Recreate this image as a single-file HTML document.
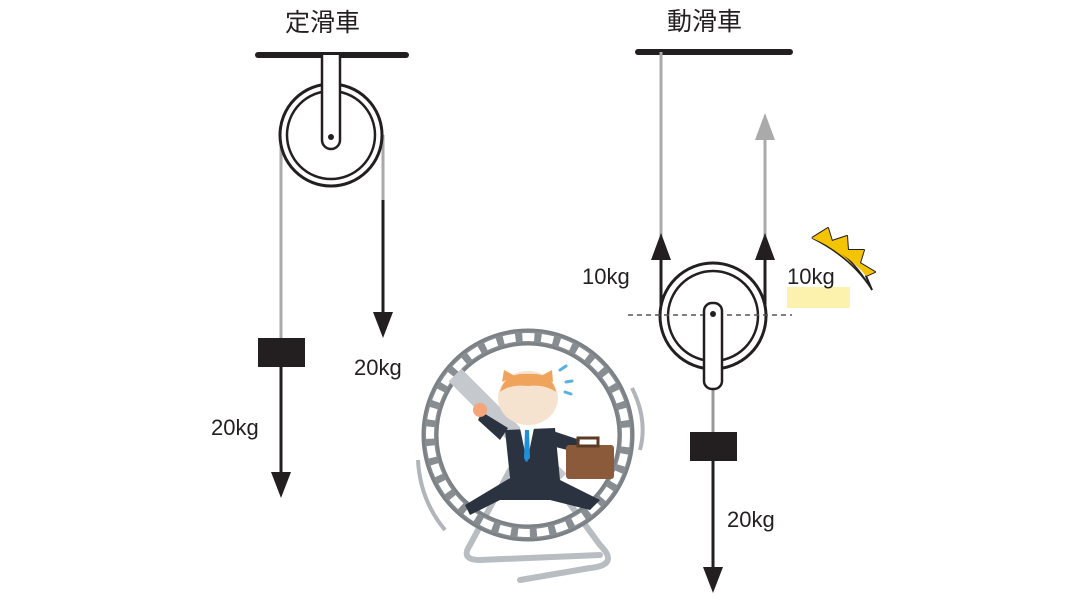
<!DOCTYPE html>
<html><head><meta charset="utf-8"><style>
html,body{margin:0;padding:0;background:#fff;}
svg{display:block}
text{font-family:"Liberation Sans","Noto Sans CJK JP",sans-serif;fill:#231f20}
</style></head><body>
<svg width="1067" height="600" viewBox="0 0 1067 600" xmlns="http://www.w3.org/2000/svg">
<text x="285" y="31" font-size="25">定滑車</text>
<text x="667" y="30" font-size="25">動滑車</text>

<line x1="258" y1="55" x2="406" y2="55" stroke="#231f20" stroke-width="6" stroke-linecap="round"/>
<line x1="281" y1="135" x2="281" y2="340" stroke="#aaa" stroke-width="3"/>
<line x1="383" y1="135" x2="383" y2="200" stroke="#aaa" stroke-width="3"/>
<circle cx="331" cy="135" r="51" fill="#fff" stroke="#231f20" stroke-width="3"/>
<circle cx="331" cy="135" r="44" fill="none" stroke="#231f20" stroke-width="2.5"/>
<path d="M322,55 V140 a9,9 0 0 0 18,0 V55" fill="#fff" stroke="#231f20" stroke-width="2.5"/>
<circle cx="331" cy="137" r="3" fill="#231f20"/>
<line x1="383" y1="200" x2="383" y2="315" stroke="#231f20" stroke-width="3"/>
<polygon points="373,312 393,312 383,338" fill="#231f20"/>
<rect x="258" y="338" width="47" height="29" fill="#231f20"/>
<line x1="281" y1="367" x2="281" y2="475" stroke="#231f20" stroke-width="3"/>
<polygon points="271,472 291,472 281,498" fill="#231f20"/>
<text x="354" y="375" font-size="22">20kg</text>
<text x="211" y="435" font-size="22">20kg</text>

<line x1="638" y1="52" x2="790" y2="52" stroke="#231f20" stroke-width="6" stroke-linecap="round"/>
<line x1="661" y1="52" x2="661" y2="240" stroke="#aaa" stroke-width="3"/>
<line x1="765" y1="135" x2="765" y2="240" stroke="#aaa" stroke-width="3"/>
<polygon points="755,140 775,140 765,113" fill="#aaa"/>
<line x1="661" y1="255" x2="661" y2="316" stroke="#231f20" stroke-width="3"/>
<polygon points="651,260 671,260 661,233" fill="#231f20"/>
<line x1="765" y1="255" x2="765" y2="316" stroke="#231f20" stroke-width="3"/>
<polygon points="755,260 775,260 765,233" fill="#231f20"/>
<circle cx="713" cy="316" r="53" fill="#fff" stroke="#231f20" stroke-width="3"/>
<circle cx="713" cy="316" r="45" fill="none" stroke="#231f20" stroke-width="2.5"/>
<line x1="628" y1="315" x2="792" y2="315" stroke="#555" stroke-width="1.5" stroke-dasharray="5,4"/>
<line x1="713" y1="385" x2="713" y2="432" stroke="#999" stroke-width="3"/>
<rect x="704" y="303" width="18" height="86" rx="8" fill="#fff" stroke="#231f20" stroke-width="2.5"/>
<circle cx="713" cy="314" r="3" fill="#231f20"/>
<rect x="690" y="432" width="47" height="29" fill="#231f20"/>
<line x1="713" y1="461" x2="713" y2="570" stroke="#231f20" stroke-width="3"/>
<polygon points="703,567 723,567 713,593" fill="#231f20"/>
<rect x="787" y="287" width="63" height="21" fill="#fbef9a" opacity="0.8"/>
<text x="582" y="284" font-size="22">10kg</text>
<text x="787" y="284" font-size="22">10kg</text>
<text x="727" y="527" font-size="22">20kg</text>
<path d="M812,238 Q845,245 872,290 Q852,258 812,238 Z" fill="#f5c400" stroke="#231f20" stroke-width="1.5"/>
<path d="M812,238 L828,228 L832,241 L847,236 L848,250 L864,250 L860,263 L875,272 L866,276 L872,290" fill="none" stroke="#231f20" stroke-width="2" stroke-linejoin="round"/>
<path d="M828,228 L832,241 L847,236 L848,250 L864,250 L860,263 L875,272 L866,276 Q850,255 812,238 Z" fill="#f5c400"/>

<path d="M470,545 L510,470 M545,470 L600,545 Q620,565 590,568 L520,580 M470,545 Q460,560 480,560 L600,555" fill="none" stroke="#b8bdc2" stroke-width="6" stroke-linecap="round"/>
<circle cx="528" cy="435" r="98" fill="none" stroke="#888d92" stroke-width="14"/>
<circle cx="528" cy="435" r="98" fill="none" stroke="#fff" stroke-width="8" stroke-dasharray="12,7"/>
<circle cx="528" cy="435" r="105" fill="none" stroke="#7c8186" stroke-width="3"/>
<circle cx="528" cy="435" r="91" fill="none" stroke="#7c8186" stroke-width="3"/>
<path d="M418,460 Q420,500 445,530" fill="none" stroke="#b0b5ba" stroke-width="4"/>
<path d="M632,388 Q648,420 640,450" fill="none" stroke="#b0b5ba" stroke-width="4"/>
<path d="M455,375 L560,480" stroke="#c5c9cd" stroke-width="18"/>
<path d="M505,430 L555,428 L560,480 L600,500 L590,510 L550,500 L500,500 L470,515 L465,505 L510,478 Z" fill="#2b3341"/>
<path d="M482,412 L508,428 L500,440 L478,420 Z" fill="#2b3341"/>
<path d="M550,430 L580,440 L575,452 L548,445 Z" fill="#2b3341"/>
<circle cx="480" cy="410" r="7" fill="#f4a57a"/>
<polygon points="520,428 534,428 527,462" fill="#fff"/>
<polygon points="525,430 529,430 530,458 526,462 524,458" fill="#1e8fd8"/>
<rect x="566" y="445" width="48" height="34" rx="3" fill="#8a5a3b"/>
<rect x="578" y="438" width="20" height="8" fill="none" stroke="#5c3a24" stroke-width="3"/>
<ellipse cx="528" cy="398" rx="30" ry="27" fill="#f6e3cf"/>
<path d="M500,392 Q505,372 528,374 Q552,372 556,392 Q545,384 528,386 Q510,384 500,392 Z" fill="#f0a35a"/>
<polygon points="502,382 504,370 515,376" fill="#f0a35a"/>
<polygon points="553,382 552,370 541,376" fill="#f0a35a"/>
<path d="M560,370 l6,-4 M566,382 l6,-1 M565,392 l6,2" stroke="#5ab0e0" stroke-width="3" stroke-linecap="round"/>
</svg>
</body></html>
